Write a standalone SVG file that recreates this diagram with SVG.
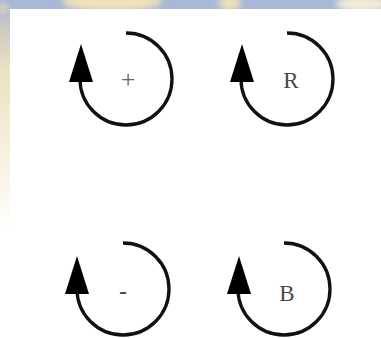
<svg xmlns="http://www.w3.org/2000/svg" width="381" height="338" viewBox="0 0 381 338">
<style>
.arc{fill:none;stroke:#111;stroke-width:3.3}
.head{fill:#000}
.lbl{font-family:"Liberation Serif",serif;font-size:23px;fill:#4a4a4a;text-anchor:middle}
</style>
<defs>
<linearGradient id="lg" x1="0" y1="0" x2="0" y2="1">
<stop offset="0" stop-color="#a9b8d6"/>
<stop offset="0.12" stop-color="#cdc9c2"/>
<stop offset="0.3" stop-color="#ece0c2"/>
<stop offset="0.55" stop-color="#f4ecd6"/>
<stop offset="0.85" stop-color="#fbf8ee"/>
<stop offset="1" stop-color="#ffffff"/>
</linearGradient>
<filter id="blur"><feGaussianBlur stdDeviation="3"/></filter>
<path id="tri" d="M-45,-35 L-57,3 L-33,3 Z"/>
</defs>
<rect width="381" height="338" fill="#fff"/>
<rect x="0" y="0" width="10" height="230" fill="url(#lg)"/>
<rect x="0" y="0" width="381" height="9" fill="#a9b8d6"/>
<g filter="url(#blur)">
<ellipse cx="112" cy="2" rx="50" ry="9" fill="#eee3ba"/>
<ellipse cx="230" cy="3" rx="11" ry="8" fill="#ece0b8"/>
<ellipse cx="362" cy="4" rx="26" ry="8" fill="#f3ecd6"/>
<ellipse cx="3" cy="8" rx="5" ry="4" fill="#e6dbbb"/>
</g>
<rect x="10" y="9" width="371" height="329" fill="#fff"/>
<g id="loop-plus" transform="translate(126,79)">
<path class="arc" d="M0,-46 A46,46 0 1 1 -46,0"/>
<use href="#tri" class="head"/>
<text class="lbl" x="2" y="9" style="font-size:26px;fill:#666">+</text>
</g>
<g id="loop-R" transform="translate(287,79)">
<path class="arc" d="M0,-46 A46,46 0 1 1 -46,0"/>
<use href="#tri" class="head"/>
<text class="lbl" x="4" y="9">R</text>
</g>
<g id="loop-minus" transform="translate(123,289)">
<path class="arc" d="M0,-46 A46,46 0 1 1 -46,0"/>
<use href="#tri" class="head" transform="translate(-1,2)"/>
<text class="lbl" x="0" y="10" style="font-weight:bold">-</text>
</g>
<g id="loop-B" transform="translate(284,289)">
<path class="arc" d="M0,-46 A46,46 0 1 1 -46,0"/>
<use href="#tri" class="head" transform="translate(0,2)"/>
<text class="lbl" x="3" y="12">B</text>
</g>
</svg>
